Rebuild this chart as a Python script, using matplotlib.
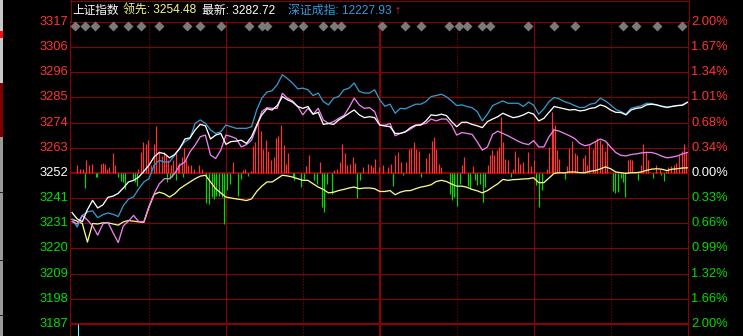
import numpy as np
import matplotlib
matplotlib.use("Agg")
from matplotlib import pyplot as plt
from matplotlib.patches import Rectangle
from matplotlib.lines import Line2D

plt.rcParams['font.family'] = ['Liberation Sans', 'Noto Sans CJK SC', 'DejaVu Sans']

# ---------------- data ----------------
prev_close = 3252.26          # 0.00% level
pct_span = 65.04              # 2.00% of prev close
minutes = np.arange(0, 241, 2)

# 上证指数 (white)
sh_line = [3235.2, 3232.5, 3231.3, 3236.5, 3240.5, 3237.2, 3238.5, 3241.8, 3242.3, 3243.5,
           3245.8, 3248.4, 3249.1, 3250.5, 3253.0, 3255.6, 3259.2, 3261.1, 3260.6, 3258.8,
           3260.2, 3262.8, 3266.9, 3267.4, 3270.8, 3273.2, 3272.6, 3266.9, 3268.6, 3269.3,
           3264.6, 3265.8, 3266.0, 3266.4, 3265.0, 3267.9, 3272.9, 3277.3, 3279.9, 3279.4,
           3281.3, 3285.2, 3283.8, 3282.8, 3280.9, 3280.1, 3280.9, 3277.6, 3278.4, 3273.2,
           3273.6, 3273.2, 3275.1, 3276.5, 3278.0, 3279.4, 3277.3, 3276.1, 3276.5, 3276.1,
           3272.9, 3272.5, 3272.2, 3269.3, 3269.3, 3270.0, 3271.8, 3272.9, 3272.9, 3274.7,
           3277.3, 3277.0, 3277.6, 3277.0, 3274.4, 3272.2, 3274.1, 3274.1, 3273.2, 3272.6,
           3271.8, 3274.4, 3275.5, 3276.5, 3278.0, 3277.0, 3276.1, 3276.5, 3277.3, 3278.4,
           3277.6, 3274.7, 3275.8, 3278.4, 3280.9, 3280.4, 3279.9, 3279.4, 3279.6, 3279.0,
           3279.3, 3280.1, 3280.4, 3281.6, 3280.9, 3279.4, 3278.4, 3278.3, 3277.3, 3279.4,
           3280.1, 3280.4, 3281.6, 3281.9, 3281.6, 3281.0, 3280.6, 3280.9, 3281.3, 3281.4,
           3282.7]

# 深证成指 overlay (blue)
sz_line = [3232.5, 3229.0, 3234.0, 3235.5, 3236.0, 3233.0, 3234.3, 3235.0, 3234.5, 3233.5,
           3238.2, 3241.0, 3242.0, 3245.5, 3248.4, 3249.8, 3255.6, 3257.7, 3257.0, 3257.0,
           3259.9, 3263.1, 3265.7, 3267.1, 3273.7, 3275.1, 3273.7, 3270.8, 3269.3, 3270.0,
           3272.9, 3272.2, 3271.5, 3271.5, 3271.5, 3272.2, 3279.4, 3284.5, 3287.1, 3287.7,
           3290.3, 3294.6, 3292.9, 3291.0, 3288.5, 3288.8, 3288.1, 3285.6, 3286.7, 3283.0,
           3281.6, 3284.5, 3285.2, 3288.1, 3288.8, 3291.0, 3287.4, 3286.7, 3286.7, 3288.1,
           3283.8, 3281.0, 3281.9, 3278.0, 3280.1, 3279.9, 3280.9, 3281.9, 3281.9, 3283.0,
           3285.2, 3285.6, 3286.2, 3285.1, 3283.3, 3281.3, 3281.6, 3280.9, 3280.4, 3278.7,
           3274.7, 3277.6, 3281.3, 3282.3, 3283.3, 3282.3, 3282.3, 3282.3, 3280.9, 3282.8,
           3281.5, 3277.6, 3279.9, 3283.0, 3284.8, 3284.2, 3283.0, 3282.3, 3281.3, 3280.4,
           3280.6, 3281.9, 3282.3, 3284.5, 3283.3, 3281.6, 3279.7, 3278.7, 3277.6, 3280.1,
           3280.7, 3281.2, 3282.3, 3282.2, 3281.6, 3280.9, 3280.4, 3281.0, 3281.3, 3281.6,
           3282.8]

# third overlay (pink)
pink_line = [3231.3, 3230.3, 3234.0, 3232.0, 3229.5, 3225.5, 3230.3, 3231.0, 3226.5, 3222.3,
             3229.5, 3231.5, 3234.0, 3231.3, 3231.3, 3238.0, 3243.3, 3247.6, 3249.8, 3249.8,
             3252.0, 3255.6, 3257.0, 3261.4, 3264.3, 3267.9, 3268.6, 3260.0, 3258.5, 3262.1,
             3268.6, 3268.0, 3267.1, 3263.5, 3264.5, 3266.4, 3272.2, 3278.7, 3280.4, 3280.1,
             3280.1, 3286.6, 3284.5, 3283.3, 3280.9, 3277.3, 3280.1, 3277.6, 3280.1, 3275.1,
             3273.6, 3274.4, 3275.8, 3277.0, 3280.4, 3284.5, 3281.6, 3280.1, 3280.4, 3278.7,
             3272.9, 3272.8, 3273.6, 3268.3, 3269.3, 3270.0, 3271.2, 3272.6, 3273.2, 3273.6,
             3275.5, 3274.7, 3275.5, 3275.5, 3272.9, 3268.6, 3269.7, 3269.3, 3268.9, 3265.7,
             3262.1, 3263.5, 3268.9, 3270.3, 3269.3, 3268.3, 3267.1, 3265.9, 3265.0, 3264.5,
             3266.2, 3263.5, 3263.5, 3267.9, 3270.8, 3270.3, 3269.3, 3268.3, 3267.1, 3265.0,
             3264.0, 3264.5, 3265.7, 3266.9, 3266.0, 3263.5, 3261.1, 3259.9, 3259.6, 3260.2,
             3260.5, 3260.9, 3261.1, 3261.1, 3260.5, 3259.5, 3258.8, 3259.1, 3259.6, 3260.5,
             3261.1]

# 领先 (yellow)
lead_line = [3232.3, 3231.5, 3230.5, 3222.5, 3230.5, 3230.3, 3230.8, 3230.8, 3230.3, 3229.8,
             3231.2, 3231.8, 3231.5, 3231.2, 3231.0, 3237.5, 3243.0, 3244.0, 3243.3, 3241.9,
             3243.3, 3245.5, 3247.0, 3248.4, 3249.8, 3250.9, 3251.3, 3248.4, 3245.5, 3243.7,
             3241.9, 3241.5, 3241.1, 3240.8, 3240.4, 3241.1, 3244.3, 3246.6, 3248.4, 3248.4,
             3249.8, 3251.3, 3251.0, 3250.5, 3249.8, 3249.1, 3249.1, 3247.6, 3246.2, 3245.2,
             3243.7, 3244.0, 3244.7, 3245.2, 3245.8, 3246.2, 3245.5, 3245.8, 3245.8, 3245.5,
             3244.3, 3244.3, 3244.7, 3242.9, 3244.0, 3244.6, 3244.7, 3245.5, 3246.2, 3246.6,
             3247.2, 3248.6, 3249.1, 3248.6, 3247.5, 3246.6, 3246.6, 3246.1, 3245.2, 3244.6,
             3243.7, 3244.7, 3246.2, 3247.6, 3249.5, 3249.1, 3249.4, 3249.5, 3249.7, 3249.8,
             3250.2, 3248.1, 3248.1, 3250.1, 3252.1, 3252.4, 3252.3, 3252.7, 3252.7, 3252.4,
             3252.4, 3253.0, 3253.3, 3254.0, 3254.9, 3254.1, 3252.7, 3252.4, 3252.1, 3252.4,
             3252.4, 3252.7, 3253.4, 3253.9, 3254.1, 3253.9, 3253.3, 3253.9, 3254.1, 3254.4,
             3254.5]

# red bars (minute, height in index points above prev close)
up_min = [2.1, 3.1, 4.1, 5.4, 6.7, 7.8, 11.1, 11.9, 12.7, 13.7,
          14.5, 16.1, 16.8, 25.9, 26.9, 27.7, 28.7, 29.8, 30.8, 31.8,
          32.9, 33.9, 35.0, 35.7, 36.8, 37.5, 38.6, 39.4, 40.4, 41.2,
          41.9, 42.7, 43.5, 44.3, 45.3, 46.3, 47.4, 49.7, 50.7,
          62.7, 66.5, 67.6, 69.6, 70.4, 71.5, 72.5, 73.5, 74.6, 75.6,
          76.6, 77.7, 78.7, 79.7, 80.5, 81.5, 82.6, 83.6, 84.4, 91.4,
          92.4, 96.6, 102.3, 103.3, 104.3, 105.4, 106.4, 107.4, 108.5, 109.5,
          110.5, 113.6, 115.5, 116.5, 117.3, 118.3, 119.6, 121.2,
          123.2, 124.5, 126.1, 127.1, 128.4, 130.2, 131.5, 132.3, 133.3, 134.1,
          135.4, 138.2, 139.3, 140.3, 141.1, 141.9, 143.0, 144.0, 152.0, 153.0,
          156.4, 162.1, 163.1, 163.9, 164.7, 165.7, 166.4, 167.2, 168.0, 169.0,
          170.1, 171.9, 172.9, 173.9, 174.8, 175.8, 177.8, 178.9, 180.2,
          185.1, 185.9, 187.0, 187.7, 188.2, 189.0, 190.0, 192.9, 193.9, 194.9,
          196.0, 197.0, 199.1, 199.9, 200.9, 201.7, 203.0, 204.0, 204.8, 205.8,
          206.8, 207.9, 208.7, 216.7, 217.5, 218.5, 221.9, 222.7, 223.7, 224.7,
          227.6, 229.1, 231.5, 232.5, 233.6, 234.6, 235.4, 236.7, 237.7, 238.5,
          239.3]
up_val = [3.3, 1.6, 1.6, 5.5, 3.3, 4.0, 4.0, 4.5, 4.0, 1.6,
          2.6, 8.4, 3.3, 1.9, 9.1, 13.4, 12.7, 14.2, 3.3, 12.3,
          20.2, 9.4, 7.4, 9.1, 7.7, 5.5, 3.3, 5.5, 8.8, 3.3,
          4.3, 6.9, 10.8, 5.5, 3.3, 3.3, 1.6, 3.6, 1.6,
          4.8, 1.2, 1.6, 0.7, 11.6, 13.4, 22.1, 18.1, 10.5, 14.2,
          9.4, 5.5, 6.9, 15.2, 16.0, 20.7, 12.0, 4.0, 8.4, 3.0,
          7.7, 4.8, 1.2, 1.6, 4.8, 12.4, 8.4, 3.3, 4.0, 6.9,
          4.3, 2.6, 3.8, 3.3, 2.6, 6.2, 2.6, 3.3,
          2.6, 3.8, 7.9, 9.1, 4.8, 4.8, 10.5, 10.8, 13.2, 10.5,
          9.4, 6.5, 8.4, 13.7, 15.6, 10.5, 4.0, 2.6, 3.3, 6.9,
          3.0, 3.6, 7.7, 9.8, 7.7, 9.8, 11.3, 24.3, 13.4, 6.2,
          5.5, 1.9, 9.4, 6.9, 4.0, 4.8, 9.1, 3.0, 5.5,
          1.6, 11.3, 26.2, 19.2, 20.7, 9.8, 6.2, 3.0, 10.8, 13.7,
          8.8, 7.7, 6.5, 7.9, 3.6, 12.0, 10.5, 13.7, 14.9, 14.2,
          12.7, 9.4, 13.2, 5.5, 6.2, 5.8, 3.6, 12.3, 9.4, 5.5,
          3.3, 1.9, 0.7, 2.6, 3.0, 3.6, 4.5, 7.9, 9.4, 12.7,
          9.1]

# green bars (minute, depth in index points below prev close)
dn_min = [5.2, 9.3, 9.8, 18.1, 18.9, 19.9, 20.7, 23.6, 24.6, 25.4,
          37.0, 38.1, 39.0, 40.6, 43.2, 52.3, 53.3, 54.4, 55.4, 56.2,
          57.2, 58.3, 59.2, 60.6, 61.4, 64.7, 65.8, 68.6, 86.0, 86.5,
          89.3, 90.6, 94.5, 95.4, 97.6, 98.4, 99.4, 101.5, 111.3, 112.4,
          125.3, 129.2, 136.0, 147.3, 148.1, 149.1, 150.2, 151.2, 154.3, 155.1,
          157.1, 157.9, 158.9, 160.3, 161.1, 171.0, 181.1, 182.0, 183.1, 192.1,
          210.8, 211.8, 212.8, 213.9, 214.9, 215.7, 220.8, 226.5, 229.6, 230.7]
dn_val = [-6.5, -1.7, -1.7, -1.7, -3.6, -3.9, -6.8, -2.5, -3.9, -5.6,
          -3.9, -2.5, -1.7, -3.2, -1.7, -12.9, -13.3, -10.4, -11.1, -9.7,
          -9.7, -10.4, -22.0, -7.5, -4.6, -10.0, -2.7, -1.3, -1.7, -3.2,
          -6.1, -2.5, -3.2, -4.6, -14.7, -16.9, -4.6, -9.0, -10.8, -3.2,
          -5.6, -0.7, -1.7, -9.0, -11.8, -10.4, -14.0, -4.6, -5.6, -6.8,
          -3.2, -5.3, -4.6, -12.6, -6.1, -1.7, -5.1, -14.7, -7.5, -2.5,
          -7.9, -8.5, -8.2, -2.2, -3.9, -10.4, -3.2, -2.2, -1.0, -3.6]

# grey event diamonds along the top
mark_min = [1, 5, 9, 16, 22, 27, 34, 45, 50, 58, 69, 74, 76, 86, 90, 98, 102, 105,
            121, 130, 136, 147, 151, 154, 160, 163, 178, 188, 196, 215, 220, 228, 238]

vol_min = [2.2]

left_labels = ["3317", "3306", "3296", "3285", "3274", "3263", "3252",
               "3241", "3231", "3220", "3209", "3198", "3187"]
right_labels = ["2.00%", "1.67%", "1.34%", "1.01%", "0.68%", "0.34%", "0.00%",
                "0.33%", "0.66%", "0.99%", "1.32%", "1.66%", "2.00%"]

# ---------------- figure ----------------
W, H = 743, 336
RED = '#ff3333'
GREEN = '#00dd00'
GRID = '#8c0000'
px = 72.0 / 100  # one pixel in points

fig = plt.figure(figsize=(W / 100, H / 100), dpi=100, facecolor='black')
ax = fig.add_axes([70 / W, 0, 618 / W, 315 / H])
ax.set_facecolor('black')

ppp = 302 / (2 * pct_span)   # pixels per index point
ax.set_xlim(-0.8, 240.2)
ax.set_ylim(prev_close - pct_span - 12 / ppp, prev_close + pct_span + 1 / ppp)
ax.set_xticks([])
ax.set_yticks([])
for s in ['top', 'bottom']:
    ax.spines[s].set_visible(False)
for s in ['left', 'right']:
    ax.spines[s].set_color(GRID)
    ax.spines[s].set_linewidth(px)

# horizontal grid
levels = prev_close + pct_span * np.arange(6, -7, -1) / 6
for i, v in enumerate(levels):
    lw = 2 * px if i in (6, 12) else px
    ax.axhline(v, color=GRID, lw=lw, zorder=1)

# vertical grid
for m in [60, 180]:
    ax.axvline(m, color=GRID, lw=px, zorder=1)
ax.axvline(120, color=GRID, lw=2 * px, zorder=1)
for m in [30, 90, 150, 210]:
    ax.axvline(m, color='#b00000', lw=px, ls=(0, (1, 2)), zorder=1)

# bars
ax.vlines(up_min, prev_close, prev_close + np.array(up_val), color=RED, lw=1.2 * px, zorder=2)
ax.vlines(dn_min, prev_close, prev_close + np.array(dn_val), color=GREEN, lw=1.2 * px, zorder=2)
ax.vlines(vol_min, ax.get_ylim()[0], levels[-1], color='#66ffff', lw=px, zorder=2)

# lines
lw = 1.3 * px
ax.plot(minutes, lead_line, color='#f8f888', lw=lw, zorder=3)
ax.plot(minutes, sz_line, color='#3399cc', lw=lw, zorder=3)
ax.plot(minutes, pink_line, color='#ee80ee', lw=lw, zorder=4)
ax.plot(minutes, sh_line, color='white', lw=lw, zorder=5)

# diamonds
ax.plot(mark_min, [1 - 5 / 315] * len(mark_min), 'D', color='#7a7a7a', ms=4.6,
        mec='none', transform=ax.get_xaxis_transform(), zorder=6, clip_on=False)

# axis labels
trans = ax.get_yaxis_transform()
for i, v in enumerate(levels):
    c = RED if i < 6 else ('white' if i == 6 else GREEN)
    ax.text(-2 / 618, v, left_labels[i], color=c, fontsize=9.3, ha='right', va='center',
            transform=trans)
    ax.text(1 + 3 / 618, v, right_labels[i], color=c, fontsize=9.3, ha='left', va='center',
            transform=trans)

# header
def fx(x):
    return x / W

def fy(y):
    return 1 - y / H

fig.add_artist(Line2D([fx(70), fx(688.5)], [fy(0.5), fy(0.5)], color=GRID, lw=px))
fig.add_artist(Line2D([fx(70.5), fx(70.5)], [fy(0), fy(21)], color=GRID, lw=px))
fig.add_artist(Line2D([fx(688.5), fx(688.5)], [fy(0), fy(21)], color=GRID, lw=px))
hy = fy(11)
fig.text(fx(72), hy, "上证指数", color='white', fontsize=8.4, va='center')
fig.text(fx(123), hy, "领先: 3254.48", color='#f8f888', fontsize=8.6, va='center')
fig.text(fx(202), hy, "最新: 3282.72", color='white', fontsize=8.6, va='center')
fig.text(fx(288), hy, "深证成指: 12227.93", color='#3399dd', fontsize=8.6, va='center')
fig.text(fx(394), hy, "↑", color=RED, fontsize=8.6, va='center')

# left window strip
fig.add_artist(Rectangle((0, fy(83)), fx(3), 83 / H, color='#c8c8c8', lw=0))
fig.add_artist(Rectangle((0, fy(38)), fx(2.5), 7 / H, color='#ee1111', lw=0))
fig.add_artist(Rectangle((0, fy(137)), fx(3), 54 / H, color='#800000', lw=0))
fig.add_artist(Rectangle((0, 0), fx(3), fy(137), color='#9a9a9a', lw=0))
for yy in [192, 260, 315]:
    fig.add_artist(Line2D([0, fx(3)], [fy(yy), fy(yy)], color='#202020', lw=px))

fig.savefig('out.png', dpi=100, facecolor='black')
